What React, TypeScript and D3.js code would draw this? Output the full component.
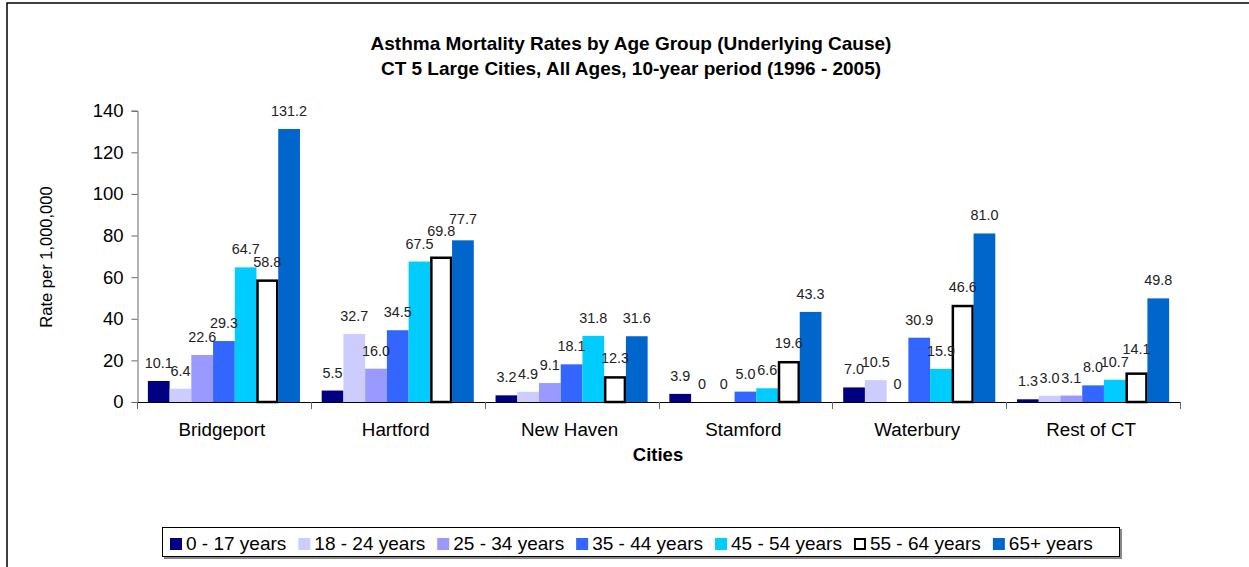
import React, { useEffect, useRef } from 'react';
import * as d3 from 'd3';

const cities = ['Bridgeport', 'Hartford', 'New Haven', 'Stamford', 'Waterbury', 'Rest of CT'];
const ageGroups = ['0 - 17 years', '18 - 24 years', '25 - 34 years', '35 - 44 years', '45 - 54 years', '55 - 64 years', '65+ years'];

// rates per 1,000,000, one array per age group (order follows cities)
const age0to17 = [10.1, 5.5, 3.2, 3.9, 7.0, 1.3];
const age18to24 = [6.4, 32.7, 4.9, 0, 10.5, 3.0];
const age25to34 = [22.6, 16.0, 9.1, 0, 0, 3.1];
const age35to44 = [29.3, 34.5, 18.1, 5.0, 30.9, 8.0];
const age45to54 = [64.7, 67.5, 31.8, 6.6, 15.9, 10.7];
const age55to64 = [58.8, 69.8, 12.3, 19.6, 46.6, 14.1];
const age65plus = [131.2, 77.7, 31.6, 43.3, 81.0, 49.8];

const yTicks = [0, 20, 40, 60, 80, 100, 120, 140];

const seriesValues = [age0to17, age18to24, age25to34, age35to44, age45to54, age55to64, age65plus];
const fills = ['#000080', '#CCCCFF', '#9999FF', '#3366FF', '#00CCFF', '#FFFFFF', '#0066CC'];

const FONT = "Arial, 'Liberation Sans', sans-serif";

const Chart: React.FC = () => {
  const ref = useRef<SVGSVGElement>(null);

  useEffect(() => {
    if (!ref.current) return;
    const width = 1249;
    const height = 567;
    const svg = d3.select(ref.current).attr('width', width).attr('height', height);
    svg.selectAll('*').remove();

    // outer frame (only top/left visible)
    svg.append('rect')
      .attr('x', 7).attr('y', 3).attr('width', 1400).attr('height', 800)
      .attr('fill', 'white').attr('stroke', '#000').attr('stroke-width', 1.5);

    const x0 = d3.scaleBand().domain(cities).range([137, 1180]).padding(0);
    const x1 = d3.scaleBand().domain(ageGroups).range([0, x0.bandwidth()]).paddingInner(0).paddingOuter(0.5);
    const y = d3.scaleLinear().domain([0, 140]).range([402, 110.7]);

    // title
    const title = svg.append('text')
      .attr('text-anchor', 'middle')
      .attr('font-family', FONT).attr('font-weight', 'bold').attr('font-size', 19);
    title.append('tspan').attr('x', 631).attr('y', 50).text('Asthma Mortality Rates by Age Group (Underlying Cause)');
    title.append('tspan').attr('x', 631).attr('y', 75).text('CT 5 Large Cities, All Ages, 10-year period (1996 - 2005)');

    // y axis
    const yAxis = svg.append('g').attr('transform', 'translate(137.5,0)')
      .call(d3.axisLeft(y).tickValues(yTicks).tickSize(6).tickPadding(8));
    yAxis.select('.domain').attr('stroke', '#666');
    yAxis.selectAll('.tick line').attr('stroke', '#666');
    yAxis.selectAll('.tick text').attr('font-family', FONT).attr('font-size', 18.5).attr('fill', '#000');

    svg.append('text')
      .attr('transform', 'translate(52,257) rotate(-90)')
      .attr('text-anchor', 'middle')
      .attr('font-family', FONT).attr('font-size', 16.5)
      .text('Rate per 1,000,000');

    // bars
    seriesValues.forEach((vals, si) => {
      const outline = si === 5;
      svg.append('g').selectAll('rect')
        .data(vals)
        .enter()
        .append('rect')
        .attr('x', (d, i) => x0(cities[i])! + x1(ageGroups[si])! + (outline ? 1 : 0))
        .attr('y', (d) => y(d) + (outline ? 1 : 0))
        .attr('width', x1.bandwidth() - (outline ? 2 : 0))
        .attr('height', (d) => Math.max(0, y(0) - y(d) - (outline ? 1 : 0)))
        .attr('fill', fills[si])
        .attr('stroke', outline ? '#000' : 'none')
        .attr('stroke-width', outline ? 2.5 : 0);
    });

    // data labels, nudged up when they collide with the label to their left
    const labelSize = 14.4;
    const labels = svg.append('g');
    cities.forEach((city, ci) => {
      let prev: { x0: number; x1: number; top: number; base: number } | null = null;
      seriesValues.forEach((vals, si) => {
        const v = vals[ci];
        const cx = x0(city)! + x1(ageGroups[si])! + x1.bandwidth() / 2;
        let base = y(v) - 13;
        const t = labels.append('text')
          .attr('x', cx)
          .attr('text-anchor', 'middle')
          .attr('font-family', FONT).attr('font-size', labelSize).attr('fill', '#222')
          .text(v === 0 ? '0' : v.toFixed(1));
        const w = (t.node() as SVGTextElement).getComputedTextLength();
        const cap = labelSize * 0.72;
        const box = { x0: cx - w / 2, x1: cx + w / 2, top: base - cap, base };
        if (prev && prev.x1 - box.x0 > 3 && box.base > prev.top && box.top < prev.base) {
          base = prev.top - 2;
          box.base = base;
          box.top = base - cap;
        }
        t.attr('y', base);
        prev = box;
      });
    });

    // x axis
    svg.append('line')
      .attr('x1', 137).attr('x2', 1180).attr('y1', 402.5).attr('y2', 402.5)
      .attr('stroke', '#000').attr('stroke-width', 1);
    const boundaries = [...cities.map((c) => x0(c)!), 1180];
    svg.append('g').selectAll('line')
      .data(boundaries)
      .enter()
      .append('line')
      .attr('x1', (d) => Math.round(d) + 0.5).attr('x2', (d) => Math.round(d) + 0.5)
      .attr('y1', 402).attr('y2', 409)
      .attr('stroke', '#666');
    svg.append('g').selectAll('text')
      .data(cities)
      .enter()
      .append('text')
      .attr('x', (d) => x0(d)! + x0.bandwidth() / 2 - 2)
      .attr('y', 436)
      .attr('text-anchor', 'middle')
      .attr('font-family', FONT).attr('font-size', 18.8)
      .text((d) => d);

    svg.append('text')
      .attr('x', 658).attr('y', 461)
      .attr('text-anchor', 'middle')
      .attr('font-family', FONT).attr('font-weight', 'bold').attr('font-size', 18.5)
      .text('Cities');

    // legend
    const legend = svg.append('g');
    legend.append('rect')
      .attr('x', 164).attr('y', 529).attr('width', 958).attr('height', 30)
      .attr('fill', '#888');
    legend.append('rect')
      .attr('x', 162.5).attr('y', 527.5).attr('width', 957).attr('height', 29)
      .attr('fill', '#fff').attr('stroke', '#000').attr('stroke-width', 1);
    let lx = 170;
    ageGroups.forEach((name, i) => {
      const outline = i === 5;
      legend.append('rect')
        .attr('x', outline ? lx + 1 : lx).attr('y', outline ? 539 : 538)
        .attr('width', outline ? 10 : 12).attr('height', outline ? 10 : 12)
        .attr('fill', fills[i])
        .attr('stroke', outline ? '#000' : 'none').attr('stroke-width', 2);
      const t = legend.append('text')
        .attr('x', lx + 16).attr('y', 549.5)
        .attr('font-family', FONT).attr('font-size', 19)
        .text(name);
      const w = (t.node() as SVGTextElement).getComputedTextLength();
      lx = lx + 16 + w + 12;
    });
  }, []);

  return <svg ref={ref} style={{ position: 'absolute', left: 0, top: 0 }}></svg>;
};

export default function App() {
  return <Chart />;
}
